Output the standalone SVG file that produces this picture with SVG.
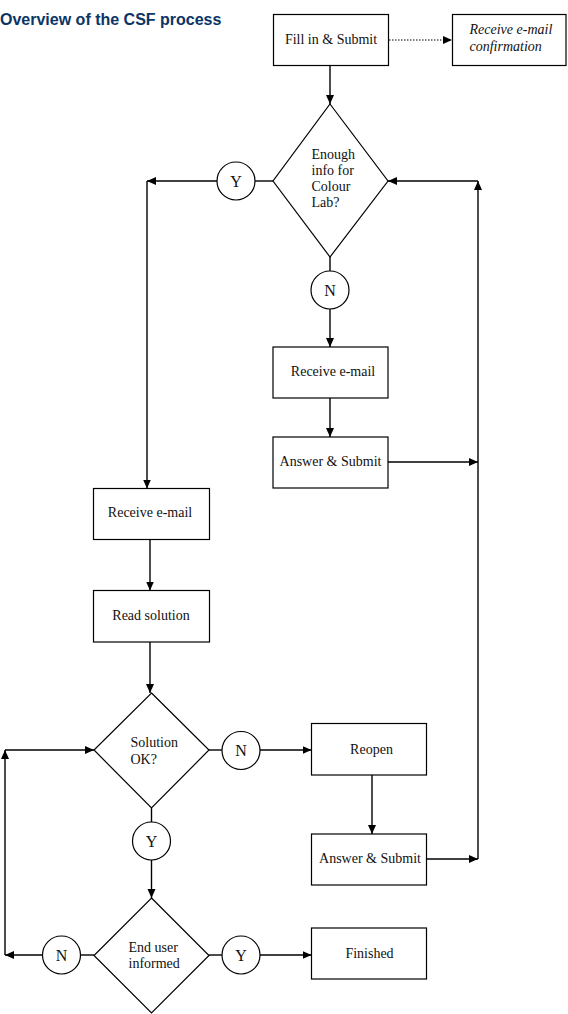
<svg xmlns="http://www.w3.org/2000/svg" width="568" height="1014" viewBox="0 0 568 1014">
<style>
.bx{fill:#fff;stroke:#000;stroke-width:1.2}
.t{font-family:"Liberation Serif","Times New Roman",serif;font-size:14px;fill:#111}
.tc{font-family:"Liberation Serif","Times New Roman",serif;font-size:16px;fill:#111;text-anchor:middle}
.c{stroke:#000;stroke-width:1.4;fill:none}
.a{stroke:#000;stroke-width:1.4;fill:none;marker-end:url(#ah)}
.d{stroke:#000;stroke-width:1;fill:none;stroke-dasharray:1.5 1.5;marker-end:url(#ah)}
</style>
<defs>
<marker id="ah" markerUnits="userSpaceOnUse" markerWidth="10" markerHeight="9" refX="9" refY="4" orient="auto">
<path d="M0,0 L9,4 L0,8 z" fill="#000"/>
</marker>
</defs>
<rect width="568" height="1014" fill="#fff"/>
<text x="0" y="25" font-family="Liberation Sans, Arial, sans-serif" font-size="16" font-weight="bold" fill="#0b3565">Overview of the CSF process</text>

<g id="connectors">
<line class="a" x1="330" y1="65.5" x2="330" y2="104"/>
<line class="d" x1="389" y1="40" x2="452" y2="40"/>
<line class="c" x1="273" y1="181" x2="255" y2="181"/>
<line class="a" x1="217" y1="181" x2="147" y2="181"/>
<line class="a" x1="147" y1="181" x2="147" y2="488.5"/>
<line class="c" x1="330" y1="257" x2="330" y2="271"/>
<line class="a" x1="330" y1="309" x2="330" y2="347"/>
<line class="a" x1="330" y1="398" x2="330" y2="437"/>
<line class="a" x1="388" y1="462" x2="478" y2="462"/>
<line class="a" x1="478" y1="859" x2="478" y2="181"/>
<line class="a" x1="478" y1="181" x2="388" y2="181"/>
<line class="a" x1="150" y1="539.5" x2="150" y2="590.5"/>
<line class="a" x1="150" y1="642" x2="150" y2="693"/>
<line class="c" x1="209" y1="750" x2="222" y2="750"/>
<line class="a" x1="260" y1="750" x2="311.5" y2="750"/>
<line class="a" x1="372" y1="775" x2="372" y2="834"/>
<line class="a" x1="426.5" y1="859" x2="478" y2="859"/>
<line class="c" x1="151.5" y1="808" x2="151.5" y2="822"/>
<line class="a" x1="151.5" y1="860" x2="151.5" y2="898"/>
<line class="c" x1="94" y1="955" x2="80.5" y2="955"/>
<line class="a" x1="42.5" y1="955" x2="5" y2="955"/>
<line class="a" x1="5" y1="955" x2="5" y2="750"/>
<line class="a" x1="5" y1="750" x2="94" y2="750"/>
<line class="c" x1="209" y1="955" x2="222" y2="955"/>
<line class="a" x1="260" y1="955" x2="311.5" y2="955"/>
</g>

<g id="fill-submit"><rect class="bx" x="273.5" y="14.5" width="115" height="51"/><text class="t" x="331" y="43.5" text-anchor="middle">Fill in &amp; Submit</text></g>
<g id="confirmation"><rect class="bx" x="452.5" y="14.5" width="113.5" height="51"/><text class="t" x="469.5" y="34" font-style="italic">Receive e-mail</text><text class="t" x="469.5" y="50.5" font-style="italic">confirmation</text></g>

<g id="enough-info"><polygon class="bx" points="330,104 388,181 330,257 273,181"/><text class="t" x="311.5" y="158.5">Enough</text><text class="t" x="311.5" y="174.5">info for</text><text class="t" x="311.5" y="190.5">Colour</text><text class="t" x="311.5" y="207">Lab?</text></g>
<g id="y1"><circle class="bx" cx="236" cy="181" r="19"/><text class="tc" x="236" y="186.5">Y</text></g>
<g id="n1"><circle class="bx" cx="330" cy="290" r="19"/><text class="tc" x="330" y="295.5">N</text></g>

<g id="receive-email-1"><rect class="bx" x="273" y="347" width="115" height="51"/><text class="t" x="333" y="375.5" text-anchor="middle">Receive e-mail</text></g>
<g id="answer-submit-1"><rect class="bx" x="273" y="437" width="115" height="51"/><text class="t" x="330.5" y="466" text-anchor="middle">Answer &amp; Submit</text></g>

<g id="receive-email-2"><rect class="bx" x="93.5" y="488.5" width="116" height="51"/><text class="t" x="150" y="517" text-anchor="middle">Receive e-mail</text></g>
<g id="read-solution"><rect class="bx" x="93.5" y="590.5" width="116" height="51.5"/><text class="t" x="151" y="619.5" text-anchor="middle">Read solution</text></g>

<g id="solution-ok"><polygon class="bx" points="151.5,693 209,750 151.5,808 94,750"/><text class="t" x="130.5" y="747">Solution</text><text class="t" x="130.5" y="763.5">OK?</text></g>
<g id="n2"><circle class="bx" cx="241" cy="750.5" r="19"/><text class="tc" x="241" y="756">N</text></g>
<g id="y2"><circle class="bx" cx="151.5" cy="841" r="19"/><text class="tc" x="151.5" y="846.5">Y</text></g>

<g id="reopen"><rect class="bx" x="311.5" y="723.5" width="115" height="51.5"/><text class="t" x="371.5" y="753.5" text-anchor="middle">Reopen</text></g>
<g id="answer-submit-2"><rect class="bx" x="311.5" y="834" width="115" height="51"/><text class="t" x="370" y="863" text-anchor="middle">Answer &amp; Submit</text></g>

<g id="end-user-informed"><polygon class="bx" points="151.5,898 209,955.5 151.5,1013 94,955.5"/><text class="t" x="128.5" y="952">End user</text><text class="t" x="128.5" y="967.5">informed</text></g>
<g id="n3"><circle class="bx" cx="61.5" cy="955" r="19"/><text class="tc" x="61.5" y="960.5">N</text></g>
<g id="y3"><circle class="bx" cx="241" cy="955" r="19"/><text class="tc" x="241" y="960.5">Y</text></g>
<g id="finished"><rect class="bx" x="311.5" y="928" width="115" height="51"/><text class="t" x="369.5" y="958" text-anchor="middle">Finished</text></g>
</svg>
